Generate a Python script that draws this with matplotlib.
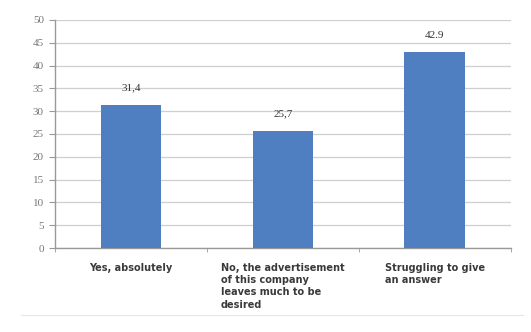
import numpy as np
import matplotlib.pyplot as plt

# data
categories = ["Yes, absolutely",
              "No, the advertisement\nof this company\nleaves much to be\ndesired",
              "Struggling to give\nan answer"]
values = [31.4, 25.7, 42.9]
value_labels = ["31,4", "25,7", "42.9"]
y_ticks = list(range(0, 51, 5))

fig = plt.figure(figsize=(5.31, 3.32), dpi=100)
ax = fig.add_axes([0.1036, 0.253, 0.8584, 0.687])

x = np.arange(len(categories))
ax.bar(x, values, width=0.4, color="#4f7fc1", zorder=3)

for xi, v, lab in zip(x, values, value_labels):
    ax.annotate(lab, (xi, v), xytext=(0, 9), textcoords="offset points",
                ha="center", va="bottom", family="Liberation Serif",
                fontsize=8, color="#333333")

ax.set_xlim(-0.5, len(categories) - 0.5)
ax.set_ylim(0, 50)
ax.set_yticks(y_ticks)
ax.set_yticklabels([str(t) for t in y_ticks], family="Liberation Serif",
                   fontsize=8, color="#777777")
ax.yaxis.grid(True, color="#cfcfcf", lw=0.9, zorder=0)
ax.tick_params(axis="y", length=4, color="#999999", pad=4)

# category labels under the bars
ax.set_xticks(x)
ax.set_xticklabels([])
ax.tick_params(axis="x", length=0)
for xi, c in zip(x, categories):
    ax.text(xi, -0.065, c, transform=ax.get_xaxis_transform(), ha="center",
            va="top", multialignment="left", family="DejaVu Sans",
            fontweight="bold", fontsize=7, color="#3a3a3a", linespacing=1.28)
ax.set_xticks(np.arange(len(categories) + 1) - 0.5, minor=True)
ax.tick_params(axis="x", which="minor", length=3, color="#999999")

for side in ["top", "right"]:
    ax.spines[side].set_visible(False)
for side in ["left", "bottom"]:
    ax.spines[side].set_color("#999999")
    ax.spines[side].set_linewidth(1.0)

# faint outer frame line at the bottom
fig.add_artist(plt.Line2D([0.04, 0.985], [0.05, 0.05], color="#e6e6e6", lw=0.8))

fig.savefig("out.png", dpi=100)
